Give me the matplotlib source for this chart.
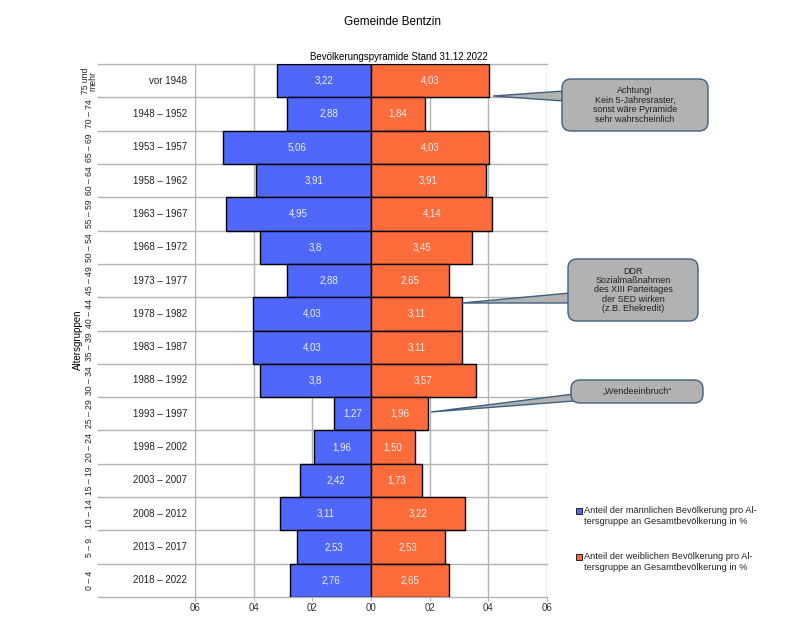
import matplotlib
matplotlib.use("Agg")
import matplotlib.pyplot as plt
from matplotlib.patches import FancyBboxPatch, Polygon, Rectangle
import numpy as np

plt.rcParams['font.family'] = ['Liberation Sans', 'DejaVu Sans']

age_groups = ["75 und\nmehr", "70 – 74", "65 – 69", "60 – 64", "55 – 59", "50 – 54",
              "45 – 49", "40 – 44", "35 – 39", "30 – 34", "25 – 29", "20 – 24",
              "15 – 19", "10 – 14", "5 – 9", "0 – 4"]
birth_years = ["vor 1948", "1948 – 1952", "1953 – 1957", "1958 – 1962", "1963 – 1967",
               "1968 – 1972", "1973 – 1977", "1978 – 1982", "1983 – 1987", "1988 – 1992",
               "1993 – 1997", "1998 – 2002", "2003 – 2007", "2008 – 2012", "2013 – 2017",
               "2018 – 2022"]
male = [3.22, 2.88, 5.06, 3.91, 4.95, 3.8, 2.88, 4.03, 4.03, 3.8, 1.27, 1.96, 2.42, 3.11, 2.53, 2.76]
female = [4.03, 1.84, 4.03, 3.91, 4.14, 3.45, 2.65, 3.11, 3.11, 3.57, 1.96, 1.50, 1.73, 3.22, 2.53, 2.65]
male_labels = ["3,22", "2,88", "5,06", "3,91", "4,95", "3,8", "2,88", "4,03", "4,03", "3,8",
               "1,27", "1,96", "2,42", "3,11", "2,53", "2,76"]
female_labels = ["4,03", "1,84", "4,03", "3,91", "4,14", "3,45", "2,65", "3,11", "3,11", "3,57",
                 "1,96", "1,50", "1,73", "3,22", "2,53", "2,65"]
xticks = [-6, -4, -2, 0, 2, 4, 6]
xtick_labels = ["06", "04", "02", "00", "02", "04", "06"]

W, H = 787, 636
fig = plt.figure(figsize=(W / 100, H / 100), dpi=100)
L, R, T, B = 195, 547, 64, 597
ax = fig.add_axes([L / W, 1 - B / H, (R - L) / W, (B - T) / H])

blue = "#4f67fa"
orange = "#ff6c3b"
grid = "#b3b3b3"

n = len(male)
y = np.arange(n)
ax.set_xlim(-6, 6)
ax.set_ylim(n - 0.5, -0.5)

ax.barh(y, [-m for m in male], height=1.0, color=blue, edgecolor="black", linewidth=1.0, zorder=3)
ax.barh(y, female, height=1.0, color=orange, edgecolor="black", linewidth=1.0, zorder=3)

for i in range(n):
    ax.text(-male[i] / 2, y[i], male_labels[i], ha="center", va="center", color="#eeeeee", fontsize=7, zorder=4)
    ax.text(female[i] / 2, y[i], female_labels[i], ha="center", va="center", color="#eeeeee", fontsize=7, zorder=4)

# grid lines
for xt in xticks:
    ax.axvline(xt, color=grid, linewidth=1, zorder=1)
xmin_ax = (98 - L) / (R - L)
for b in np.arange(n + 1) - 0.5:
    ax.plot([xmin_ax, 1], [b, b], transform=ax.get_yaxis_transform(), color=grid,
            linewidth=1, clip_on=False, zorder=1)

for s in ax.spines.values():
    s.set_visible(False)
ax.set_xticks(xticks)
ax.set_xticklabels(xtick_labels, fontsize=7, color="#333333")
ax.tick_params(axis="x", length=3, color=grid, pad=1)
ax.set_yticks([])

# row labels
trans = ax.get_yaxis_transform()
xa_age = (89 - L) / (R - L)
xa_year = (187 - L) / (R - L)
for i in range(n):
    ax.text(xa_age, y[i], age_groups[i], rotation=90, ha="center", va="center",
            fontsize=6.2, transform=trans, color="#222222", linespacing=0.85)
    ax.text(xa_year, y[i], birth_years[i], ha="right", va="center",
            fontsize=7, transform=trans, color="#222222")

fig.text(392 / W, 1 - 22 / H, "Gemeinde Bentzin", ha="center", va="center", fontsize=8.5)
fig.text(399 / W, 1 - 57 / H, "Bevölkerungspyramide Stand 31.12.2022", ha="center", va="center", fontsize=7)
fig.text(78 / W, 1 - 340 / H, "Altersgruppen", rotation=90, ha="center", va="center", fontsize=7)

# callouts (figure pixel coordinates -> inches)
box_fc = "#b2b2b2"
box_ec = "#3f5f80"

def callout(x0, y0, x1, y1, tip, base, text):
    tr = fig.dpi_scale_trans
    def p(px, py):
        return (px / 100, (H - py) / 100)
    tail = Polygon([p(*base[0]), p(*tip), p(*base[1])], closed=True, transform=tr,
                   facecolor=box_fc, edgecolor=box_ec, linewidth=1.0, zorder=5)
    fig.add_artist(tail)
    rs = min(0.09, (y1 - y0) / 100 * 0.45)
    bx = FancyBboxPatch(p(x0, y1), (x1 - x0) / 100, (y1 - y0) / 100,
                        boxstyle="round,pad=0,rounding_size=%f" % rs, transform=tr,
                        facecolor=box_fc, edgecolor=box_ec, linewidth=1.0, zorder=6)
    fig.add_artist(bx)
    seam = Polygon([p(base[0][0] + 1.5, base[0][1] + 1), p(base[1][0] + 1.5, base[1][1] - 1),
                    p(base[1][0] + 6, base[1][1] - 1), p(base[0][0] + 6, base[0][1] + 1)],
                   closed=True, transform=tr, facecolor=box_fc, edgecolor="none", zorder=7)
    fig.add_artist(seam)
    fig.text((x0 + x1) / 2 / W, 1 - (y0 + y1) / 2 / H, text, ha="center", va="center",
             fontsize=6.5, linespacing=1.05, color="#222222", zorder=8)

callout(562, 79, 708, 131, (493, 96), ((564, 91), (564, 101)),
        "Achtung!\nKein 5-Jahresraster,\nsonst wäre Pyramide\nsehr wahrscheinlich")
callout(568, 259, 698, 321, (462, 303), ((570, 293), (570, 303)),
        "DDR\nSozialmaßnahmen\ndes XIII Parteitages\nder SED wirken\n(z.B. Ehekredit)")
callout(571, 380, 703, 403, (431, 412), ((574, 394), (574, 401)),
        "„Wendeeinbruch“")

# legend
leg_items = [(511, blue, "Anteil der männlichen Bevölkerung pro Al-\ntersgruppe an Gesamtbevölkerung in %"),
             (557, orange, "Anteil der weiblichen Bevölkerung pro Al-\ntersgruppe an Gesamtbevölkerung in %")]
for yy, c, t in leg_items:
    fig.add_artist(Rectangle((576 / W, 1 - (yy + 3) / H), 6 / W, 6 / H, transform=fig.transFigure,
                             facecolor=c, edgecolor="#222222", linewidth=0.7))
    fig.text(584 / W, 1 - (yy - 5) / H, t, ha="left", va="top", fontsize=6.7, linespacing=1.25,
             color="#222222")

fig.savefig("out.png", dpi=100)
